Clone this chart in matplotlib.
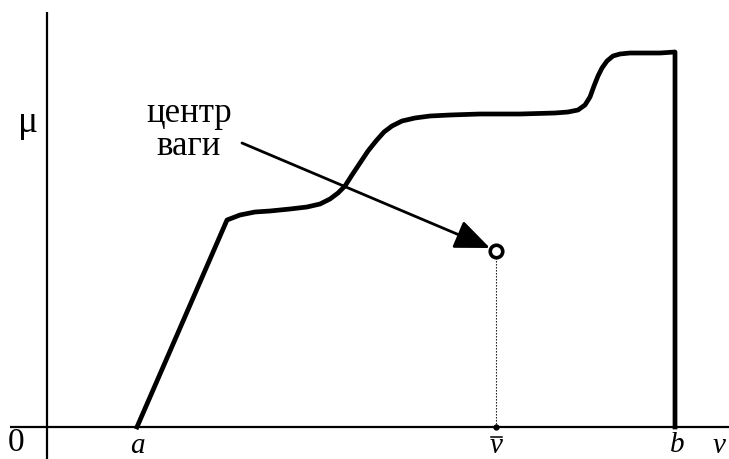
import matplotlib
matplotlib.use("Agg")
import matplotlib.pyplot as plt

plt.rcParams["font.family"] = ["Liberation Serif", "DejaVu Serif"]

# membership function mu(v), sharp corner at the end of the linear rise
v_curve = [90, 180, 193, 208, 223, 243, 260, 273, 283, 291, 298, 305, 313, 321,
           329, 337, 345, 355, 368, 383, 403, 433, 473, 508, 521, 531, 538, 543,
           547, 551, 555, 560, 566, 573, 583, 598, 613, 628, 628]
mu_curve = [0, 207, 212, 215, 216, 218, 220, 223, 228, 234, 241, 252, 264, 276,
            286, 295, 301, 306, 309, 311, 312, 313, 313, 314, 315, 317, 322, 330,
            341, 351, 359, 366, 371, 373, 374, 374, 374, 375, 0]

# interval ends and the centre of gravity
v_a = 90
v_b = 628
v_bar = 449
mu_bar = 176
label_pos = (142, 297)   # where the caption sits
arrow_tail = (195, 284)

fig = plt.figure(figsize=(7.29, 4.59), dpi=100)
ax = fig.add_axes([0, 0, 1, 1])
ax.set_xlim(-47, 682)
ax.set_ylim(-32, 427)
ax.axis("off")

# axes
ax.plot([-37, 682], [0, 0], color="black", lw=1.6, solid_capstyle="butt")
ax.plot([0, 0], [-32, 415], color="black", lw=1.6, solid_capstyle="butt")

ax.plot(v_curve, mu_curve, color="black", lw=3.4, solid_joinstyle="round")

# centre of gravity projection
ax.plot([v_bar, v_bar], [0, mu_bar - 5], color="black", lw=0.8, ls=(0, (1.2, 1.5)))
ax.plot(v_bar, 0, "o", color="black", ms=3.5)

ax.annotate("", xy=(v_bar - 6, mu_bar + 3), xytext=arrow_tail,
            arrowprops=dict(arrowstyle="-|>,head_length=1.2,head_width=0.5",
                            color="black", lw=2.0, mutation_scale=18,
                            shrinkA=0, shrinkB=0))
ax.plot(v_bar, mu_bar, "o", ms=9, mfc="white", mec="black", mew=2.6)

ax.text(*label_pos, "центр\nваги", ha="center", va="center", fontsize=25,
        linespacing=1.0)

ax.text(-19, 304, "μ", ha="center", va="center", fontsize=27)
ax.text(-31, -16, "0", ha="center", va="center", fontsize=24)
ax.text(v_a, -19, "a", ha="center", va="center", fontsize=21, style="italic")
ax.text(v_b + 2, -18, "b", ha="center", va="center", fontsize=21, style="italic")
ax.text(v_bar, -19, "v", ha="center", va="center", fontsize=21, style="italic")
ax.plot([v_bar - 5, v_bar + 6], [-10, -10], color="black", lw=1.1)  # bar over v
ax.text(666, -19, "v", ha="left", va="center", fontsize=21, style="italic")

fig.savefig("out.png", dpi=100)
